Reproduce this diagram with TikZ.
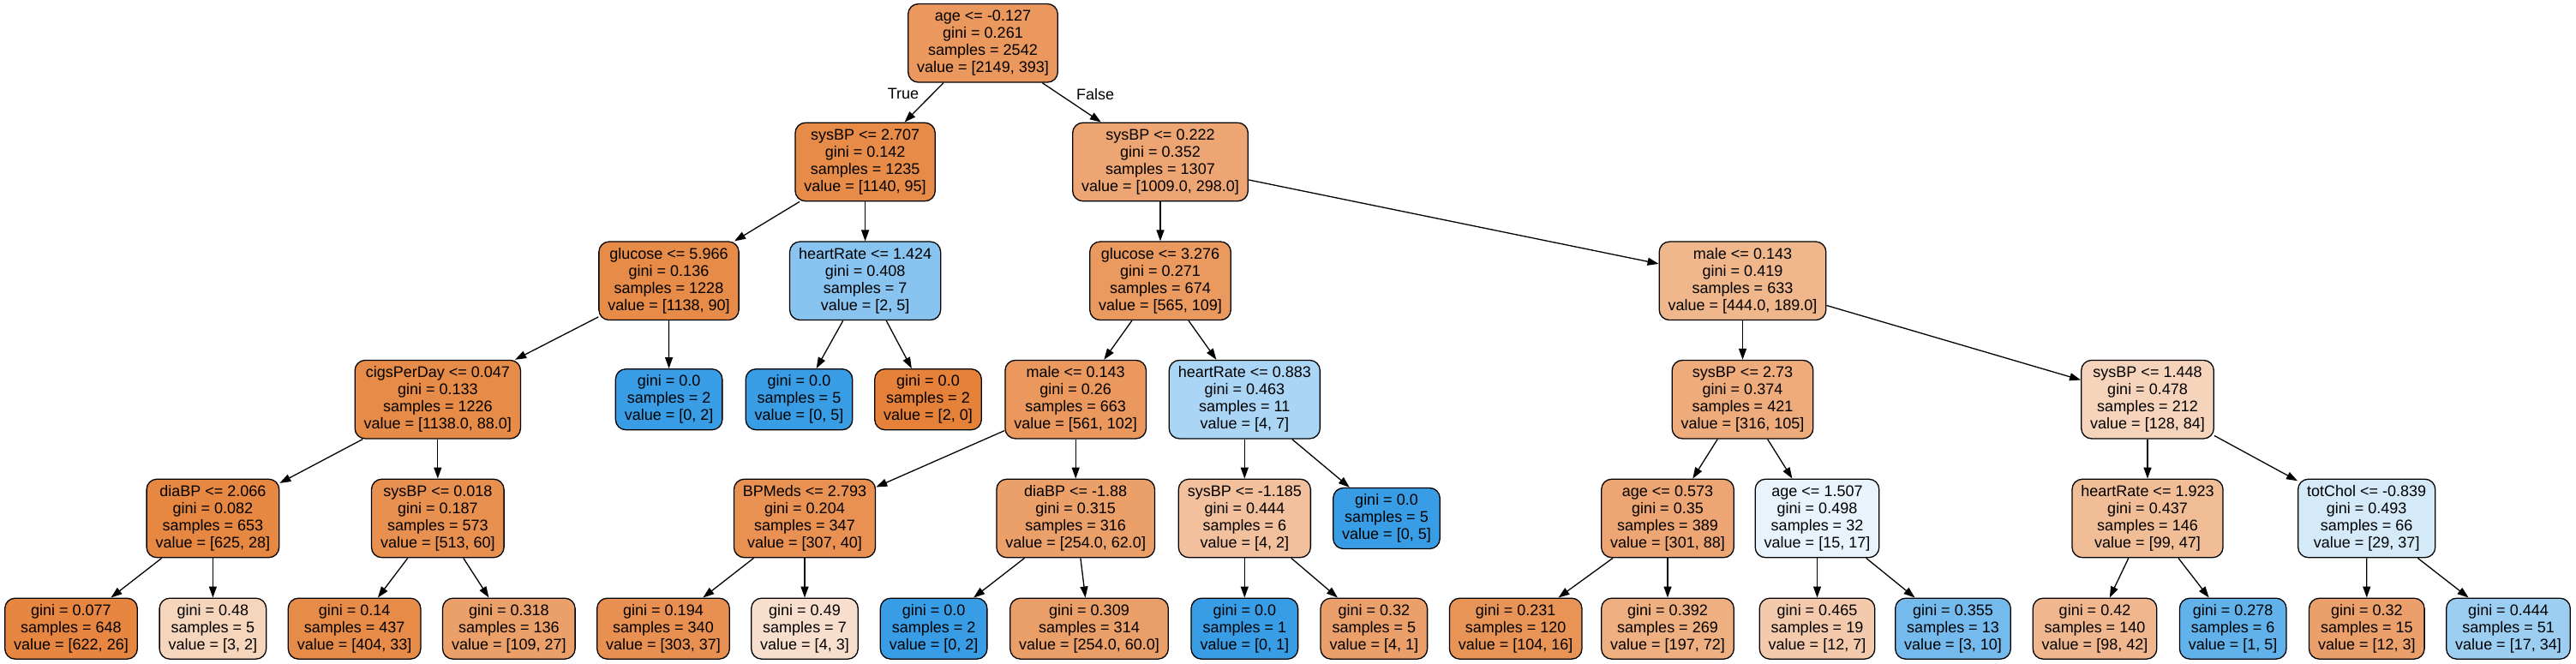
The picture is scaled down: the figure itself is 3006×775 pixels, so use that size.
\documentclass[tikz,border=0pt]{standalone}
\usepackage{fontspec}
\setmainfont{Liberation Sans}
\usetikzlibrary{arrows.meta}
\definecolor{orng}{HTML}{E58139}
\definecolor{blu}{HTML}{399DE5}
\tikzset{
  box/.style={draw=black, line width=1.3pt, rounded corners=12pt, align=center,
    inner xsep=10.5pt, inner ysep=2pt, font=\fontsize{18}{20}\selectfont},
  split/.style={box, minimum height=91.5pt},
  leaf/.style={box, minimum height=71pt},
  oc/.style={fill=orng!#1!white},
  bc/.style={fill=blu!#1!white},
  edge/.style={-{Triangle[length=13pt,width=9pt]}, line width=1.3pt, draw=black},
  lab/.style={font=\fontsize{18}{20}\selectfont, inner sep=0pt}
}
\begin{document}
\begin{tikzpicture}[x=1pt,y=-1pt]
\useasboundingbox (0,0) rectangle (3006,775);

% level 0
\node[split,oc=81.7] (n0) at (1147,50.3) {age <= -0.127\\gini = 0.261\\samples = 2542\\value = [2149, 393]};
% level 1
\node[split,oc=91.7] (n1) at (1009.6,189) {sysBP <= 2.707\\gini = 0.142\\samples = 1235\\value = [1140, 95]};
\node[split,oc=70.5] (n2) at (1354,189) {sysBP <= 0.222\\gini = 0.352\\samples = 1307\\value = [1009.0, 298.0]};
% level 2
\node[split,oc=92.1] (n3) at (780.5,327.8) {glucose <= 5.966\\gini = 0.136\\samples = 1228\\value = [1138, 90]};
\node[split,bc=60] (n4) at (1009.6,327.8) {heartRate <= 1.424\\gini = 0.408\\samples = 7\\value = [2, 5]};
\node[split,oc=80.7] (n5) at (1354,327.8) {glucose <= 3.276\\gini = 0.271\\samples = 674\\value = [565, 109]};
\node[split,oc=57.4] (n6) at (2033.5,327.8) {male <= 0.143\\gini = 0.419\\samples = 633\\value = [444.0, 189.0]};
% level 3
\node[split,oc=92.3] (n7) at (510.8,466.2) {cigsPerDay <= 0.047\\gini = 0.133\\samples = 1226\\value = [1138.0, 88.0]};
\node[leaf,bc=100] (n8) at (780.6,466.2) {gini = 0.0\\samples = 2\\value = [0, 2]};
\node[leaf,bc=100] (n9) at (932.5,466.2) {gini = 0.0\\samples = 5\\value = [0, 5]};
\node[leaf,oc=100] (n10) at (1083,466.2) {gini = 0.0\\samples = 2\\value = [2, 0]};
\node[split,oc=81.8] (n11) at (1255.2,466.2) {male <= 0.143\\gini = 0.26\\samples = 663\\value = [561, 102]};
\node[split,bc=42.9] (n12) at (1452.3,466.2) {heartRate <= 0.883\\gini = 0.463\\samples = 11\\value = [4, 7]};
\node[split,oc=66.8] (n13) at (2033.5,466.2) {sysBP <= 2.73\\gini = 0.374\\samples = 421\\value = [316, 105]};
\node[split,oc=34.4] (n14) at (2506,466.2) {sysBP <= 1.448\\gini = 0.478\\samples = 212\\value = [128, 84]};
% level 4
\node[split,oc=95.5] (n15) at (248.4,605) {diaBP <= 2.066\\gini = 0.082\\samples = 653\\value = [625, 28]};
\node[split,oc=88.3] (n16) at (510.8,605) {sysBP <= 0.018\\gini = 0.187\\samples = 573\\value = [513, 60]};
\node[split,oc=87.0] (n17) at (939,605) {BPMeds <= 2.793\\gini = 0.204\\samples = 347\\value = [307, 40]};
\node[split,oc=75.6] (n18) at (1255.2,605) {diaBP <= -1.88\\gini = 0.315\\samples = 316\\value = [254.0, 62.0]};
\node[split,oc=50] (n19) at (1452.3,605) {sysBP <= -1.185\\gini = 0.444\\samples = 6\\value = [4, 2]};
\node[leaf,bc=100] (n20) at (1618,605) {gini = 0.0\\samples = 5\\value = [0, 5]};
\node[split,oc=70.8] (n21) at (1946,605) {age <= 0.573\\gini = 0.35\\samples = 389\\value = [301, 88]};
\node[split,bc=11.8] (n22) at (2120.5,605) {age <= 1.507\\gini = 0.498\\samples = 32\\value = [15, 17]};
\node[split,oc=52.5] (n23) at (2506,605) {heartRate <= 1.923\\gini = 0.437\\samples = 146\\value = [99, 47]};
\node[split,bc=21.6] (n24) at (2761.7,605) {totChol <= -0.839\\gini = 0.493\\samples = 66\\value = [29, 37]};
% level 5
\node[leaf,oc=95.8] (n25) at (83,733.7) {gini = 0.077\\samples = 648\\value = [622, 26]};
\node[leaf,oc=33.3] (n26) at (248.4,733.7) {gini = 0.48\\samples = 5\\value = [3, 2]};
\node[leaf,oc=91.8] (n27) at (413.6,733.7) {gini = 0.14\\samples = 437\\value = [404, 33]};
\node[leaf,oc=75.2] (n28) at (593.8,733.7) {gini = 0.318\\samples = 136\\value = [109, 27]};
\node[leaf,oc=87.8] (n29) at (774,733.7) {gini = 0.194\\samples = 340\\value = [303, 37]};
\node[leaf,oc=25] (n30) at (939,733.7) {gini = 0.49\\samples = 7\\value = [4, 3]};
\node[leaf,bc=100] (n31) at (1089.6,733.7) {gini = 0.0\\samples = 2\\value = [0, 2]};
\node[leaf,oc=76.4] (n32) at (1271,733.7) {gini = 0.309\\samples = 314\\value = [254.0, 60.0]};
\node[leaf,bc=100] (n33) at (1452.3,733.7) {gini = 0.0\\samples = 1\\value = [0, 1]};
\node[leaf,oc=75] (n34) at (1603.3,733.7) {gini = 0.32\\samples = 5\\value = [4, 1]};
\node[leaf,oc=84.6] (n35) at (1768.7,733.7) {gini = 0.231\\samples = 120\\value = [104, 16]};
\node[leaf,oc=63.5] (n36) at (1946,733.7) {gini = 0.392\\samples = 269\\value = [197, 72]};
\node[leaf,oc=41.7] (n37) at (2120.5,733.7) {gini = 0.465\\samples = 19\\value = [12, 7]};
\node[leaf,bc=70] (n38) at (2279,733.7) {gini = 0.355\\samples = 13\\value = [3, 10]};
\node[leaf,oc=57.1] (n39) at (2444.5,733.7) {gini = 0.42\\samples = 140\\value = [98, 42]};
\node[leaf,bc=80] (n40) at (2605.7,733.7) {gini = 0.278\\samples = 6\\value = [1, 5]};
\node[leaf,oc=75] (n41) at (2761.8,733.7) {gini = 0.32\\samples = 15\\value = [12, 3]};
\node[leaf,bc=50] (n42) at (2927,733.7) {gini = 0.444\\samples = 51\\value = [17, 34]};

% edge labels
\node[lab] (ltrue) at (1054,109) {True};
\node[lab] (lfalse) at (1278,110) {False};

% edges
\draw[edge] (n0) -- (n1);
\draw[edge] (n0) -- (n2);
\draw[edge] (n1) -- (n3);
\draw[edge] (n1) -- (n4);
\draw[edge] (n2) -- (n5);
\draw[edge] (n2) -- (n6);
\draw[edge] (n3) -- (n7);
\draw[edge] (n3) -- (n8);
\draw[edge] (n4) -- (n9);
\draw[edge] (n4) -- (n10);
\draw[edge] (n5) -- (n11);
\draw[edge] (n5) -- (n12);
\draw[edge] (n6) -- (n13);
\draw[edge] (n6) -- (n14);
\draw[edge] (n7) -- (n15);
\draw[edge] (n7) -- (n16);
\draw[edge] (n11) -- (n17);
\draw[edge] (n11) -- (n18);
\draw[edge] (n12) -- (n19);
\draw[edge] (n12) -- (n20);
\draw[edge] (n13) -- (n21);
\draw[edge] (n13) -- (n22);
\draw[edge] (n14) -- (n23);
\draw[edge] (n14) -- (n24);
\draw[edge] (n15) -- (n25);
\draw[edge] (n15) -- (n26);
\draw[edge] (n16) -- (n27);
\draw[edge] (n16) -- (n28);
\draw[edge] (n17) -- (n29);
\draw[edge] (n17) -- (n30);
\draw[edge] (n18) -- (n31);
\draw[edge] (n18) -- (n32);
\draw[edge] (n19) -- (n33);
\draw[edge] (n19) -- (n34);
\draw[edge] (n21) -- (n35);
\draw[edge] (n21) -- (n36);
\draw[edge] (n22) -- (n37);
\draw[edge] (n22) -- (n38);
\draw[edge] (n23) -- (n39);
\draw[edge] (n23) -- (n40);
\draw[edge] (n24) -- (n41);
\draw[edge] (n24) -- (n42);
\end{tikzpicture}
\end{document}
